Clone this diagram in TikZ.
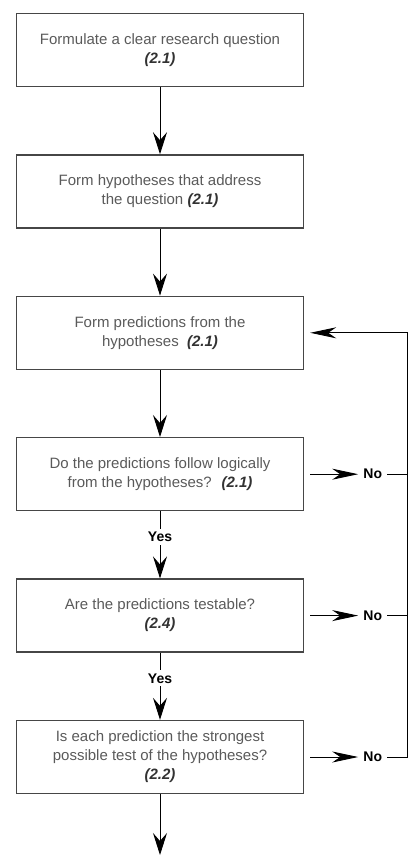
\documentclass[tikz,border=0pt]{standalone}
\usepackage{fontspec}
\setmainfont{Liberation Sans}
\usepackage{tikz}
\usetikzlibrary{positioning}
\usetikzlibrary{arrows.meta}
\usepackage{color}
\definecolor{textgray}{RGB}{90, 90, 90}
\definecolor{refgray}{RGB}{50, 50, 50}
\definecolor{boxgray}{RGB}{70, 70, 70}
\newcommand{\stepref}[1]{\textcolor{refgray}{\textbf{\textit{(#1)}}}}

\begin{document}
\begin{tikzpicture}[x=1pt, y=1pt,
    stepbox/.style={draw=boxgray, line width=1.4pt, minimum width=287pt, minimum height=73pt,
                    align=center, text=textgray, font=\fontsize{15}{19}\selectfont},
    flow/.style={-{Stealth[length=22pt, width=14pt, inset=8pt]}, line width=0.9pt},
    side/.style={-{Stealth[length=26pt, width=11pt, inset=8pt]}, line width=0.9pt},
    answer/.style={font=\fontsize{14}{16}\selectfont\bfseries, fill=white, inner sep=3pt}]
            % Frame to fix the margins
            \useasboundingbox (0,0) rectangle (416,-858);
            % Steps
            \node[stepbox]                        (formulate) at (160,-50) {Formulate a clear research question\\ \stepref{2.1}};
            \node[stepbox, below=67pt of formulate] (hypotheses) {Form hypotheses that address\\ the question \stepref{2.1}};
            \node[stepbox, below=67pt of hypotheses] (predict)   {Form predictions from the\\ hypotheses \ \stepref{2.1}};
            \node[stepbox, below=67pt of predict]   (logical)    {Do the predictions follow logically\\ from the hypotheses? \ \stepref{2.1}};
            \node[stepbox, below=67pt of logical]   (testable)   {Are the predictions testable?\\ \stepref{2.4}};
            \node[stepbox, below=67pt of testable]  (strongest)  {Is each prediction the strongest\\ possible test of the hypotheses?\\ \stepref{2.2}};
            \coordinate (next) at (160,-855);
            % Main flow
            \draw[flow] (formulate.south)  -- (hypotheses.north);
            \draw[flow] (hypotheses.south) -- (predict.north);
            \draw[flow] (predict.south)    -- (logical.north);
            \draw[flow] (logical.south)    -- node[answer, pos=0.38] {Yes} (testable.north);
            \draw[flow] (testable.south)   -- node[answer, pos=0.38] {Yes} (strongest.north);
            \draw[flow] (strongest.south)  -- (next);
            % No answers
            \node[answer, right=56pt of logical]   (nologic) {No};
            \node[answer, right=56pt of testable]  (notest)  {No};
            \node[answer, right=56pt of strongest] (nostrong) {No};
            \draw[side] ([xshift=6pt]logical.east)   -- ([xshift=-2pt]nologic.west);
            \draw[side] ([xshift=6pt]testable.east)  -- ([xshift=-2pt]notest.west);
            \draw[side] ([xshift=6pt]strongest.east) -- ([xshift=-2pt]nostrong.west);
            % Loop back
            \coordinate (loop) at (407,0);
            \draw[line width=0.9pt] ([xshift=2pt]nologic.east) -- (nologic.east -| loop);
            \draw[line width=0.9pt] ([xshift=2pt]notest.east)  -- (notest.east -| loop);
            \draw[side] ([xshift=2pt]nostrong.east) -- (nostrong.east -| loop) |- ([xshift=6pt]predict.east);
\end{tikzpicture}
\end{document}
